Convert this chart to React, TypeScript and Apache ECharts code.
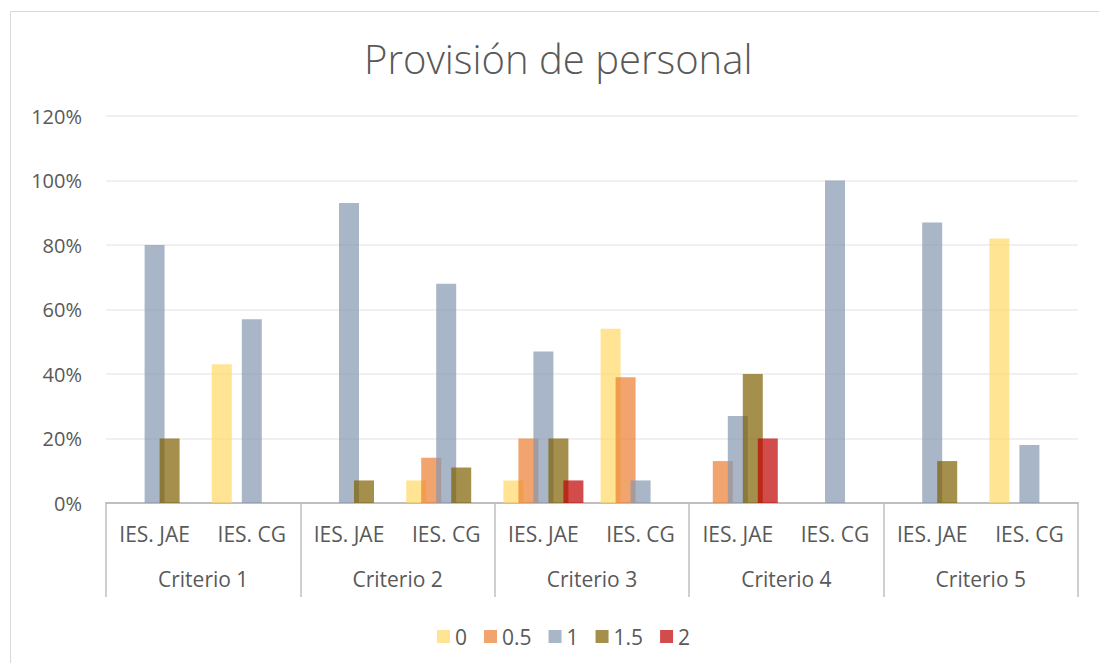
import React, { useEffect, useRef } from "react";
import * as echarts from "echarts";

const schools = ["IES. JAE", "IES. CG", "IES. JAE", "IES. CG", "IES. JAE", "IES. CG", "IES. JAE", "IES. CG", "IES. JAE", "IES. CG"];
const criteria = ["Criterio 1", "Criterio 2", "Criterio 3", "Criterio 4", "Criterio 5"];
const seriesNames = ["0", "0.5", "1", "1.5", "2"];
const seriesColors = ["#FFD966", "#ED7D31", "#8497B0", "#7F6000", "#C00000"];

const s0 = [0, 43, 0, 7, 7, 54, 0, 0, 0, 82];
const s05 = [0, 0, 0, 14, 20, 39, 13, 0, 0, 0];
const s1 = [80, 57, 93, 68, 47, 7, 27, 100, 87, 18];
const s15 = [20, 0, 7, 11, 20, 0, 40, 0, 13, 0];
const s2 = [0, 0, 0, 0, 7, 0, 20, 0, 0, 0];
const seriesData = [s0, s05, s1, s15, s2];

const FONT = "'Open Sans', 'Noto Sans', sans-serif";
const TEXT = "#595959";
const LINE = "#BFBFBF";

export default function App() {
  const ref = useRef<HTMLDivElement>(null);
  useEffect(() => {
    if (!ref.current) return;
    const chart = echarts.init(ref.current, null, { renderer: "svg" });
    chart.setOption({
      animation: false,
      backgroundColor: "#ffffff",
      title: {
        text: "Provisión de personal",
        left: 359,
        top: 33,
        textStyle: { fontFamily: FONT, fontSize: 40, fontWeight: 300, color: TEXT },
      },
      graphic: [
        {
          type: "rect",
          shape: { x: 10.5, y: 11.5, width: 1200, height: 800 },
          style: { fill: "none", stroke: "#D9D9D9", lineWidth: 1 },
          silent: true,
        },
      ],
      legend: {
        top: 621,
        left: 432,
        itemWidth: 13,
        itemHeight: 13,
        itemGap: 17,
        icon: "rect",
        textStyle: { fontFamily: FONT, fontSize: 21, color: TEXT },
        data: seriesNames,
      },
      grid: { left: 106, right: 21, top: 116, bottom: 160, containLabel: false },
      xAxis: [
        {
          type: "category",
          data: schools,
          axisLine: { show: true, lineStyle: { color: LINE, width: 2 } },
          axisTick: { show: false },
          axisLabel: { interval: 0, margin: 20, fontFamily: FONT, fontSize: 21, color: TEXT },
        },
        {
          type: "category",
          data: criteria,
          position: "bottom",
          axisLine: { show: false },
          axisTick: { show: true, length: 94, interval: 0, lineStyle: { color: LINE, width: 1.5 } },
          axisLabel: { interval: 0, margin: 65, fontFamily: FONT, fontSize: 21, color: TEXT },
        },
      ],
      yAxis: {
        type: "value",
        min: 0,
        max: 120,
        interval: 20,
        axisLine: { show: false },
        axisTick: { show: false },
        axisLabel: { formatter: "{value}%", margin: 24, fontFamily: FONT, fontSize: 20, color: TEXT },
        splitLine: { lineStyle: { color: "#EBEBEB", width: 1.5 } },
      },
      series: seriesNames.map((name, i) => ({
        name,
        type: "bar",
        xAxisIndex: 0,
        data: seriesData[i],
        barWidth: 20,
        barGap: "-25%",
        itemStyle: { color: seriesColors[i], opacity: 0.7 },
      })),
    });
    return () => chart.dispose();
  }, []);
  return (
    <div
      ref={ref}
      style={{ position: "fixed", left: 0, top: 0, width: 1099, height: 663, background: "#fff" }}
    />
  );
}
